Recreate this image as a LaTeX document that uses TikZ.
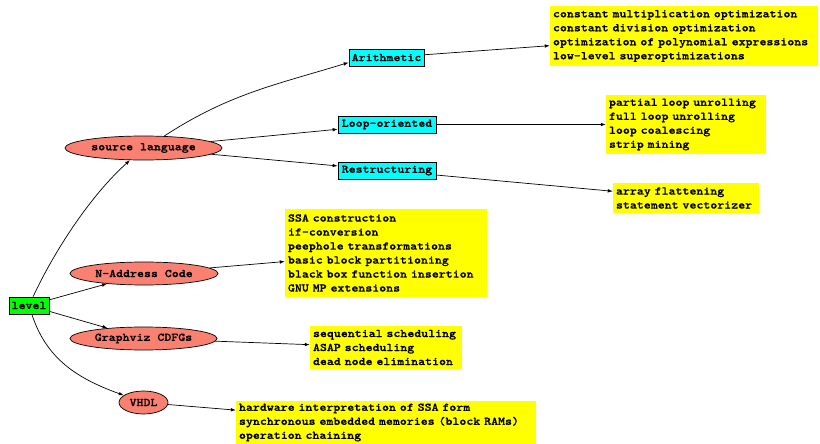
\documentclass[tikz,border=0pt]{standalone}
\usepackage{fontspec}
\usetikzlibrary{arrows.meta,shapes.geometric}
\newfontfamily\gvfont{lmmonolt10-bold}[Extension=.otf,FakeStretch=1.143,FakeBold=0.8]
\definecolor{gvsalmon}{HTML}{FA8072}
\definecolor{gvcyan}{HTML}{00FFFF}
\definecolor{gvgreen}{HTML}{00FF00}
\definecolor{gvyellow}{HTML}{FFFF00}
\begin{document}
\begin{tikzpicture}[x=1pt,y=-1pt,
  every node/.style={font=\gvfont\fontsize{11.6}{14}\selectfont},
  arr/.style={draw=black,line width=0.7pt,-{Latex[length=5pt,width=3.6pt]}},
  rootbox/.style={draw=black,line width=0.7pt,fill=gvgreen,inner sep=0pt,minimum width=40pt,minimum height=17pt},
  catbox/.style={draw=black,line width=0.7pt,fill=gvcyan,inner sep=0pt,minimum height=17pt},
  lvl/.style={ellipse,draw=black,line width=0.7pt,fill=gvsalmon,inner sep=0pt,minimum height=23pt},
  notes/.style={fill=gvyellow,inner xsep=3pt,inner ysep=0pt,align=left}
]
\useasboundingbox (0,0) rectangle (820,444);

% root and abstraction levels
\node[rootbox] (level) at (29,305.5) {level};
\node[lvl,minimum width=157pt,minimum height=24pt] (src) at (143.5,148) {source language};
\node[lvl,minimum width=148pt] (nac) at (144,273.5) {N-Address Code};
\node[lvl,minimum width=147pt] (gv) at (143.5,338.5) {Graphviz CDFGs};
\node[lvl,minimum width=49pt] (vhdl) at (143.5,402.5) {VHDL};

% source-level categories
\node[catbox,minimum width=75pt] (arith) at (386.5,57.5) {Arithmetic};
\node[catbox,minimum width=98pt] (loop) at (387,124.5) {Loop-oriented};
\node[catbox,minimum width=98pt] (restr) at (387,170.5) {Restructuring};

% transformation lists
\node[notes,text width=262pt,minimum height=60pt] (ay) at (684,36)
  {constant multiplication optimization\\constant division optimization\\optimization of polynomial expressions\\low-level superoptimizations};
\node[notes,text width=154pt,minimum height=59pt] (ly) at (686,124.5)
  {partial loop unrolling\\full loop unrolling\\loop coalescing\\strip mining};
\node[notes,text width=140pt,minimum height=30pt] (ry) at (686,198)
  {array flattening\\statement vectorizer};
\node[notes,text width=196pt,minimum height=88pt] (ny) at (386,253)
  {SSA construction\\if-conversion\\peephole transformations\\basic block partitioning\\black box function insertion\\GNU MP extensions};
\node[notes,text width=146pt,minimum height=43pt] (gy) at (386,347.5)
  {sequential scheduling\\ASAP scheduling\\dead node elimination};
\node[notes,text width=294pt,minimum height=43pt] (vy) at (386,422.5)
  {hardware interpretation of SSA form\\synchronous embedded memories (block RAMs)\\operation chaining};

% connectors
\draw[arr] (level) to[out=65,in=222,looseness=0.8] (src);
\draw[arr] (level) -- (nac);
\draw[arr] (level) -- (gv);
\draw[arr] (level) to[out=-72,in=160] (vhdl);
\draw[arr] (src.30) to[out=33,in=197] ([yshift=-5pt]arith.west);
\draw[arr] (src) -- (loop);
\draw[arr] (src) -- (restr);
\draw[arr] (arith) -- (ay);
\draw[arr] (loop) -- (ly);
\draw[arr] (restr) -- (ry);
\draw[arr] (nac) -- (ny);
\draw[arr] (gv) -- (gy);
\draw[arr] (vhdl) -- (vy);
\end{tikzpicture}
\end{document}
